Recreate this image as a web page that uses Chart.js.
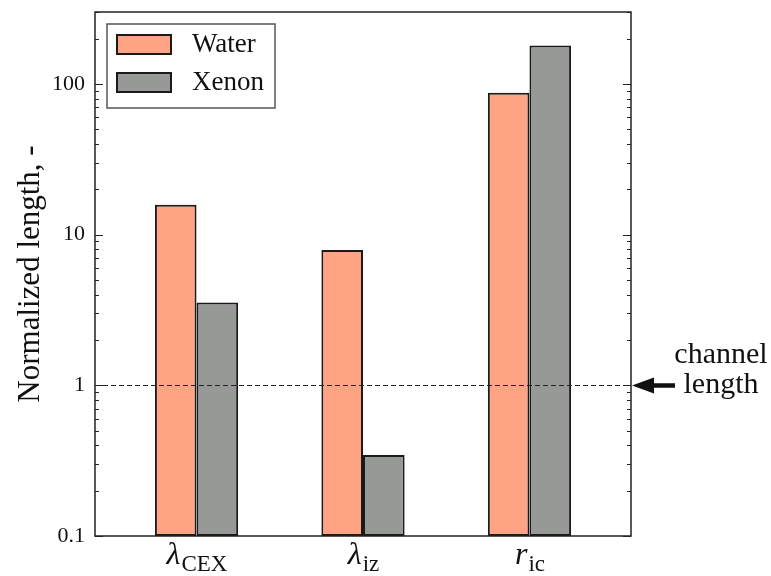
<!DOCTYPE html>
<html>
<head>
<meta charset="utf-8">
<script src="https://cdn.jsdelivr.net/npm/chart.js@4.4.1/dist/chart.umd.min.js"></script>
<style>
  html, body { margin: 0; background: #fff; }
  #wrap { width: 771px; height: 576px; }
</style>
</head>
<body>
<div id="wrap"><canvas id="chart"></canvas></div>
<script>
// Data
const categories = [
    { sym: 'λ', sub: 'CEX' },
    { sym: 'λ', sub: 'iz' },
    { sym: 'r', sub: 'ic' }
];
const waterValues = [15.8, 7.9, 87.5];
const xenonValues = [3.55, 0.345, 180];
const yTickLabels = [0.1, 1, 10, 100];
const yMin = 0.1;
const yMax = 300;
const channelLength = 1;

const serif = '"Liberation Serif", "Times New Roman", serif';
const ink = '#1a1a1a';

// all minor/major tick values between yMin and yMax
const logTicks = () => {
    const out = [];
    for (let e = -1; e <= 2; e++) {
        for (let m = 1; m <= 9; m++) {
            const v = m * Math.pow(10, e);
            if (v >= yMin * 0.999 && v <= yMax * 1.001) out.push({ value: v });
        }
    }
    return out;
};

const isMajor = (v) => yTickLabels.some(t => Math.abs(t - v) / t < 1e-6);

const decorations = {
    id: 'decorations',
    afterDatasetsDraw(chart) {
        const { ctx, chartArea: a, scales } = chart;
        const y = scales.y, x = scales.x;
        ctx.save();

        // frame
        ctx.strokeStyle = '#222';
        ctx.lineWidth = 1.5;
        ctx.strokeRect(a.left, a.top, a.right - a.left, a.bottom - a.top);

        // inward ticks, left and right
        ctx.lineWidth = 1;
        y.ticks.forEach(t => {
            const py = Math.round(y.getPixelForValue(t.value)) + 0.5;
            const len = isMajor(t.value) ? 8 : 4;
            ctx.beginPath();
            ctx.moveTo(a.left, py); ctx.lineTo(a.left + len, py);
            ctx.moveTo(a.right, py); ctx.lineTo(a.right - len, py);
            ctx.stroke();
        });

        // channel length line
        const cy = Math.round(y.getPixelForValue(channelLength)) + 0.5;
        ctx.strokeStyle = '#222';
        ctx.lineWidth = 1.2;
        ctx.setLineDash([5, 3]);
        ctx.beginPath();
        ctx.moveTo(a.left, cy); ctx.lineTo(a.right, cy);
        ctx.stroke();
        ctx.setLineDash([]);

        // arrow + text
        ctx.fillStyle = '#111';
        ctx.strokeStyle = '#111';
        ctx.lineWidth = 4.5;
        ctx.beginPath();
        ctx.moveTo(a.right + 18, cy); ctx.lineTo(a.right + 44, cy);
        ctx.stroke();
        ctx.beginPath();
        ctx.moveTo(a.right + 1, cy);
        ctx.lineTo(a.right + 23, cy - 8);
        ctx.lineTo(a.right + 23, cy + 8);
        ctx.closePath();
        ctx.fill();
        ctx.font = '30px ' + serif;
        ctx.textAlign = 'center';
        ctx.textBaseline = 'alphabetic';
        ctx.fillText('channel', 721, cy - 23);
        ctx.fillText('length', 721, cy + 7);

        // x labels with subscripts
        categories.forEach((c, i) => {
            const px = x.getPixelForValue(i);
            ctx.font = 'italic 32px ' + serif;
            const w1 = ctx.measureText(c.sym).width;
            ctx.font = '23px ' + serif;
            const w2 = ctx.measureText(c.sub).width;
            const start = px - (w1 + w2) / 2;
            ctx.textAlign = 'left';
            ctx.font = 'italic 32px ' + serif;
            ctx.fillText(c.sym, start, a.bottom + 28);
            ctx.font = '23px ' + serif;
            ctx.fillText(c.sub, start + w1 + 1, a.bottom + 35);
        });

        // legend
        const lx = a.left + 12, ly = a.top + 12;
        ctx.fillStyle = '#fff';
        ctx.fillRect(lx, ly, 168, 84);
        ctx.strokeStyle = '#555';
        ctx.lineWidth = 1.5;
        ctx.strokeRect(lx, ly, 168, 84);
        chart.data.datasets.forEach((ds, i) => {
            const sy = ly + 11 + i * 38;
            ctx.fillStyle = ds.backgroundColor;
            ctx.fillRect(lx + 10, sy, 54, 19);
            ctx.strokeStyle = ink;
            ctx.lineWidth = 2;
            ctx.strokeRect(lx + 10, sy, 54, 19);
            ctx.fillStyle = '#111';
            ctx.font = '27px ' + serif;
            ctx.textAlign = 'left';
            ctx.textBaseline = 'middle';
            ctx.fillText(ds.label, lx + 85, sy + 10);
        });
        ctx.restore();
    }
};

const toPoints = (vals) => vals.map((v, i) => ({ x: i, y: v }));

new Chart(document.getElementById('chart'), {
    type: 'bar',
    data: {
        datasets: [
            { label: 'Water', data: toPoints(waterValues), backgroundColor: '#ffa385' },
            { label: 'Xenon', data: toPoints(xenonValues), backgroundColor: '#979997' }
        ]
    },
    options: {
        responsive: true,
        maintainAspectRatio: false,
        animation: false,
        layout: { padding: { left: 0, right: 140, top: 12, bottom: 0 } },
        datasets: {
            bar: {
                borderColor: ink,
                borderWidth: 2,
                borderSkipped: false,
                categoryPercentage: 0.5,
                barPercentage: 1.0
            }
        },
        plugins: {
            legend: { display: false },
            tooltip: { enabled: false }
        },
        scales: {
            x: {
                type: 'linear',
                offset: false,
                min: -0.61,
                max: 2.61,
                grid: { display: false, drawTicks: false },
                border: { display: false },
                ticks: { display: false },
                afterBuildTicks: (s) => { s.ticks = categories.map((c, i) => ({ value: i })); },
                afterFit: (s) => { s.height = 40; s.paddingLeft = 0; s.paddingRight = 0; }
            },
            y: {
                type: 'logarithmic',
                min: yMin,
                max: yMax,
                grid: { display: false, drawTicks: false },
                border: { display: false },
                afterBuildTicks: (s) => { s.ticks = logTicks(); },
                afterFit: (s) => { s.width = 95; s.paddingTop = 0; s.paddingBottom = 0; },
                ticks: {
                    autoSkip: false,
                    padding: 10,
                    color: '#111',
                    font: { family: serif, size: 22 },
                    callback: (v) => isMajor(v) ? String(v) : ''
                },
                title: {
                    display: true,
                    text: 'Normalized length, -',
                    color: '#111',
                    font: { family: serif, size: 31 },
                    padding: { top: 12, bottom: 0 }
                }
            }
        }
    },
    plugins: [decorations]
});
</script>
</body>
</html>
